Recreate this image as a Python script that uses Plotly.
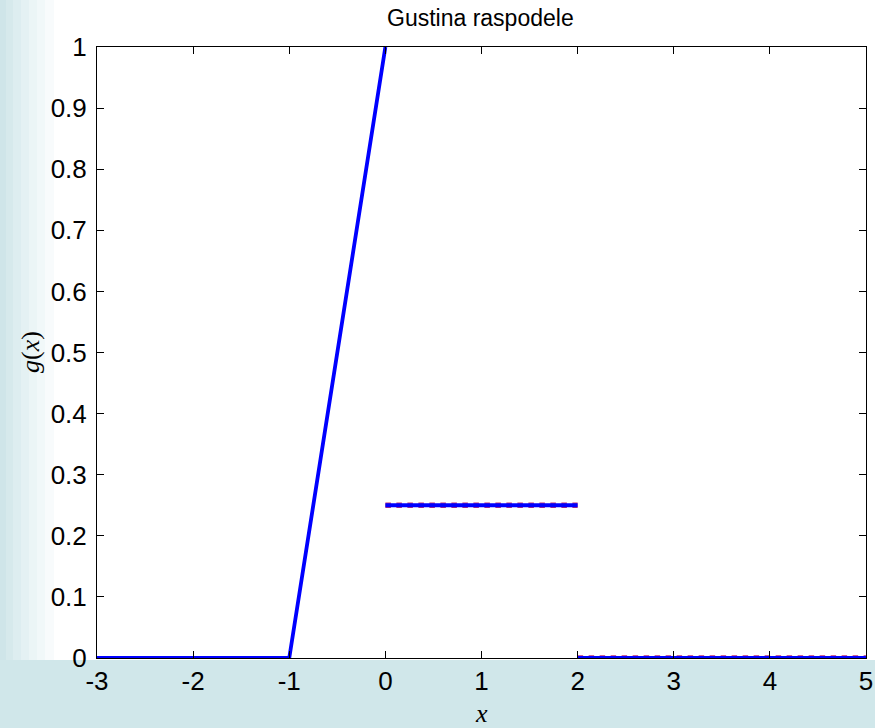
import plotly.graph_objects as go

# Data
rise_x = [-3, -1, 0]
rise_y = [0, 0, 1]
flat_x = [0, 2]
flat_y = [0.25, 0.25]
tail_x = [2, 5]
tail_y = [0, 0]

x_ticks = [-3, -2, -1, 0, 1, 2, 3, 4, 5]
y_ticks = [0, 0.1, 0.2, 0.3, 0.4, 0.5, 0.6, 0.7, 0.8, 0.9, 1]
y_ticktext = ["0", "0.1", "0.2", "0.3", "0.4", "0.5", "0.6", "0.7", "0.8", "0.9", "1"]

W, H = 875, 728
L, R, T, B = 97, 9, 47, 70
pw = W - L - R
ph = H - T - B

def px2x(px):
    return (px - L) / pw

def py2y(py):
    return (H - B - py) / ph

BLUE = "#0000ff"
fig = go.Figure()

# multicolour underlay (overlapping plotted series)
for xs, ys in [(flat_x, flat_y), (tail_x, tail_y)]:
    fig.add_trace(go.Scatter(x=xs, y=ys, mode="lines",
                             line=dict(color="#c03070", width=5.5, dash="dot"),
                             cliponaxis=False, showlegend=False, hoverinfo="skip"))

for xs, ys in [(rise_x, rise_y), (flat_x, flat_y), (tail_x, tail_y)]:
    fig.add_trace(go.Scatter(x=xs, y=ys, mode="lines",
                             line=dict(color=BLUE, width=3.8),
                             cliponaxis=False, showlegend=False))

shapes = []
# bottom teal band
shapes.append(dict(type="rect", xref="paper", yref="paper",
                   x0=px2x(0), x1=px2x(W), y0=py2y(H), y1=py2y(660),
                   fillcolor="#d0e7ea", line=dict(width=0), layer="below"))
# left gradient strips
strips = [(0, 6, "#cfe5e9"), (6, 13, "#d6e9ec"), (13, 21, "#ddedf0"),
          (21, 29, "#e4f1f3"), (29, 37, "#ebf5f6"), (37, 45, "#f1f8f9"),
          (45, 54, "#f8fbfc")]
for a, b, c in strips:
    shapes.append(dict(type="rect", xref="paper", yref="paper",
                       x0=px2x(a), x1=px2x(b), y0=py2y(660), y1=py2y(0),
                       fillcolor=c, line=dict(width=0), layer="below"))

axis_common = dict(showline=True, linecolor="black", linewidth=1, mirror="allticks",
                   ticks="inside", ticklen=7, tickwidth=1, tickcolor="black",
                   showgrid=False, zeroline=False, automargin=False,
                   tickfont=dict(family="Liberation Sans, Arial", size=26, color="black"))

fig.update_layout(
    width=W, height=H,
    margin=dict(l=L, r=R, t=T, b=B, autoexpand=False),
    paper_bgcolor="white", plot_bgcolor="white",
    shapes=shapes,
    xaxis=dict(range=[-3, 5], tickmode="array", tickvals=x_ticks,
               ticktext=[str(v) for v in x_ticks], **axis_common),
    yaxis=dict(range=[0, 1], tickmode="array", tickvals=y_ticks,
               ticktext=y_ticktext, ticklabelstandoff=4, **axis_common),
    annotations=[
        dict(text="Gustina raspodele", xref="paper", yref="paper",
             x=px2x(480), y=py2y(18), xanchor="center", yanchor="middle",
             showarrow=False,
             font=dict(family="Liberation Sans, Arial", size=23, color="black")),
        dict(text="<i>x</i>", xref="paper", yref="paper",
             x=px2x(481), y=py2y(713), xanchor="center", yanchor="middle",
             showarrow=False,
             font=dict(family="Liberation Serif, Times New Roman", size=26, color="black")),
        dict(text="<i>g</i>(<i>x</i>)", xref="paper", yref="paper",
             x=px2x(30), y=py2y(352), xanchor="center", yanchor="middle",
             showarrow=False, textangle=-90,
             font=dict(family="Liberation Serif, Times New Roman", size=26, color="black")),
    ],
)

fig.write_html("out.html", config={"displayModeBar": False},
               post_script="document.body.style.margin='0';document.body.style.overflow='hidden';")
